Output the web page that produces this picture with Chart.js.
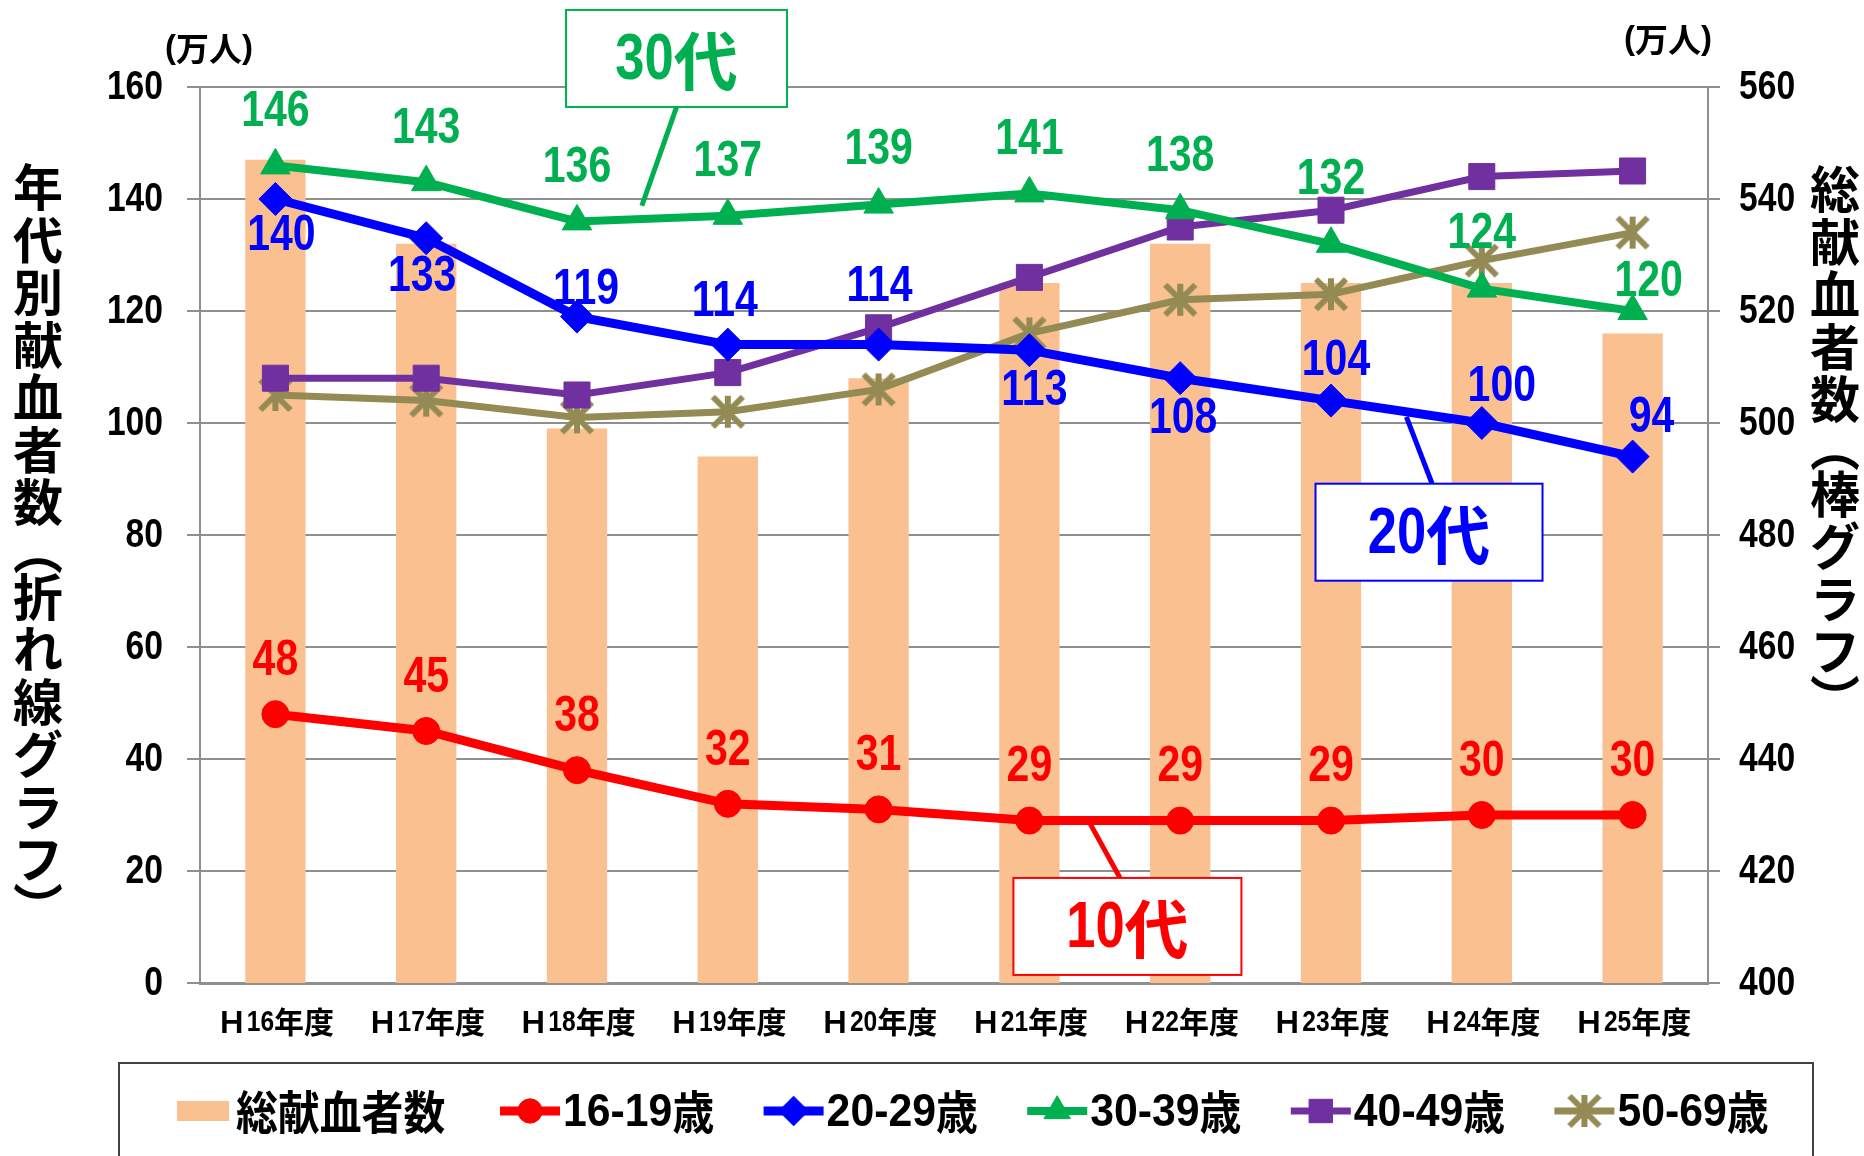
<!DOCTYPE html>
<html lang="ja">
<head>
<meta charset="utf-8">
<title>年代別献血者数の推移</title>
<script src="https://cdn.jsdelivr.net/npm/chart.js@4.4.1/dist/chart.umd.min.js"></script>
<style>
  html, body { margin: 0; padding: 0; background: #fff; }
  canvas { display: block; }
</style>
</head>
<body>
<canvas id="donorChart" width="1864" height="1156"></canvas>
<script>
/* ---------- DATA ---------- */
const categories = ["Ｈ16年度", "Ｈ17年度", "Ｈ18年度", "Ｈ19年度", "Ｈ20年度",
                    "Ｈ21年度", "Ｈ22年度", "Ｈ23年度", "Ｈ24年度", "Ｈ25年度"];
const totalDonors = [547, 532, 499, 494, 508, 525, 532, 525, 525, 516];   // 棒グラフ (右軸)
const age16to19 = [48, 45, 38, 32, 31, 29, 29, 29, 30, 30];
const age20to29 = [140, 133, 119, 114, 114, 113, 108, 104, 100, 94];
const age30to39 = [146, 143, 136, 137, 139, 141, 138, 132, 124, 120];
const age40to49 = [108, 108, 105, 109, 117, 126, 135, 138, 144, 145];
const age50to69 = [105, 104, 101, 102, 106, 116, 122, 123, 129, 134];
const leftTicks = [0, 20, 40, 60, 80, 100, 120, 140, 160];
const rightTicks = [400, 420, 440, 460, 480, 500, 520, 540, 560];

/* ---------- STYLE ---------- */
const LATIN = "'Liberation Sans', Arial, sans-serif";
const JP_FONT = "'Noto Sans CJK JP', sans-serif";
const NARROW = 0.82;   // squeeze latin text like a narrow gothic
const GRID = "#8f8f8f";

// label offsets (px) from each point: [dx, dy]
const offsAbove = [[0, -54], [0, -54], [0, -54], [0, -54], [0, -54],
                   [0, -54], [0, -54], [0, -54], [0, -54], [0, -54]];
const offs20 = [[6, 36], [-4, 38], [9, -27], [-3, -43], [1, -58],
                [5, 40], [3, 40], [5, -40], [20, -37], [19, -39]];
const offs30 = [[0, -54], [0, -54], [0, -54], [0, -55], [0, -55],
                [0, -54], [0, -54], [0, -65], [0, -55], [16, -30]];

function makeAsterisk(color, r, w) {
  const c = document.createElement("canvas");
  const s = Math.ceil(2 * r + w + 2);
  c.width = s; c.height = s;
  const g = c.getContext("2d");
  const m = s / 2;
  g.strokeStyle = color;
  g.lineWidth = w;
  g.beginPath();
  g.moveTo(m - r, m - r); g.lineTo(m + r, m + r);
  g.moveTo(m + r, m - r); g.lineTo(m - r, m + r);
  g.moveTo(m, m - r - 1); g.lineTo(m, m + r + 1);
  g.stroke();
  return c;
}
const asterisk = makeAsterisk("#948A54", 15, 6);

// call-out boxes, placed in data coordinates (category index, left-axis value)
const callouts = [
  { text: "30代", color: "#00B050", at: [2.66, 165.1], w: 221, h: 97, from: [2.66, 156.4], to: [2.43, 138.8] },
  { text: "20代", color: "#0000FF", at: [7.65, 80.5], w: 227, h: 97, from: [7.67, 89.2], to: [7.50, 101.1] },
  { text: "10代", color: "#FF0000", at: [5.65, 10.1], w: 228, h: 97, from: [5.60, 18.8], to: [5.40, 28.6] }
];

/* draw text with latin runs squeezed, CJK runs at (almost) normal width */
function drawMixed(ctx, text, x, y, size, align, opt) {
  const o = Object.assign({ latin: NARROW, cjk: 1 }, opt || {});
  const runs = [];
  for (const ch of text) {
    const latin = ch.charCodeAt(0) < 0x2000;
    const last = runs[runs.length - 1];
    if (last && last.latin === latin) last.s += ch;
    else runs.push({ latin, s: ch });
  }
  let total = 0;
  runs.forEach(r => {
    r.font = "bold " + size + "px " + (r.latin ? LATIN : JP_FONT);
    r.sx = r.latin ? o.latin : o.cjk;
    ctx.font = r.font;
    r.w = ctx.measureText(r.s).width * r.sx;
    total += r.w;
  });
  let cx = align === "center" ? x - total / 2 : align === "right" ? x - total : x;
  runs.forEach(r => {
    ctx.save();
    ctx.font = r.font;
    ctx.textAlign = "left";
    ctx.textBaseline = "middle";
    ctx.translate(cx, y + (r.latin ? 1 : 0));
    ctx.scale(r.sx, 1);
    ctx.fillText(r.s, 0, 0);
    ctx.restore();
    cx += r.w;
  });
  return total;
}

function lineSet(label, data, color, style, radius, width, offs, extra) {
  return Object.assign({
    type: "line", label, data, yAxisID: "y", order: 0,
    borderColor: color, backgroundColor: color, borderWidth: width,
    pointStyle: style, pointRadius: radius, pointHoverRadius: radius,
    pointBackgroundColor: color, pointBorderColor: color, pointBorderWidth: 1,
    labelOffsets: offs
  }, extra || {});
}

/* ---------- PLUGIN: labels, callouts, titles, legend ---------- */
const decorations = {
  id: "decorations",
  afterDatasetsDraw(chart) {
    const ctx = chart.ctx;
    ctx.save();
    chart.data.datasets.forEach((ds, i) => {
      if (!ds.labelOffsets) return;
      const meta = chart.getDatasetMeta(i);
      ctx.fillStyle = ds.borderColor;
      meta.data.forEach((pt, j) => {
        const o = ds.labelOffsets[j];
        drawMixed(ctx, String(ds.data[j]), pt.x + o[0], pt.y + o[1], 50, "center");
      });
    });

    const xs = chart.scales.x, ys = chart.scales.y;
    callouts.forEach(c => {
      const cx = xs.getPixelForValue(c.at[0]);
      const cy = ys.getPixelForValue(c.at[1]);
      ctx.strokeStyle = c.color;
      ctx.lineWidth = 5;
      ctx.beginPath();
      ctx.moveTo(xs.getPixelForValue(c.from[0]), ys.getPixelForValue(c.from[1]));
      ctx.lineTo(xs.getPixelForValue(c.to[0]), ys.getPixelForValue(c.to[1]));
      ctx.stroke();
      ctx.fillStyle = "#fff";
      ctx.fillRect(cx - c.w / 2, cy - c.h / 2, c.w, c.h);
      ctx.lineWidth = 2;
      ctx.strokeRect(cx - c.w / 2, cy - c.h / 2, c.w, c.h);
      ctx.fillStyle = c.color;
      drawMixed(ctx, c.text, cx, cy + 2, 64, "center");
    });
    ctx.restore();
  },
  afterDraw(chart) {
    const ctx = chart.ctx;
    ctx.save();
    ctx.fillStyle = "#000";

    // tick labels, taken from the scales
    const ys = chart.scales.y, y2 = chart.scales.y2, xs = chart.scales.x;
    ys.ticks.forEach(t => drawMixed(ctx, String(t.value), ys.right - 37, ys.getPixelForValue(t.value), 41, "right"));
    y2.ticks.forEach(t => drawMixed(ctx, String(t.value), y2.left + 31, y2.getPixelForValue(t.value), 41, "left"));
    chart.data.labels.forEach((lab, i) => drawMixed(ctx, lab, xs.getPixelForTick(i), xs.top + 39, 30, "center"));

    // vertical axis titles
    const vertical = (text, cx, top) => {
      ctx.font = "bold 50px " + JP_FONT;
      ctx.textAlign = "center";
      ctx.textBaseline = "middle";
      let y = top;
      for (const ch of text) {
        const h = "︵︶".includes(ch) ? 42 : 52.5;
        ctx.fillText(ch, cx, y + h / 2);
        y += h;
      }
    };
    vertical("年代別献血者数︵折れ線グラフ︶", 38, 161);
    vertical("総献血者数︵棒グラフ︶", 1835, 163);

    // units
    drawMixed(ctx, "(万人)", 165, 48, 33, "left", { latin: 1 });
    drawMixed(ctx, "(万人)", 1624, 39, 33, "left", { latin: 1 });

    // legend
    ctx.strokeStyle = "#404040";
    ctx.lineWidth = 2;
    ctx.strokeRect(119, 1063, 1694, 200);
    const ly = 1111;
    let k = 0;
    chart.data.datasets.forEach(ds => {
      let x;
      if (ds.type === "bar") {
        x = 177;
        ctx.fillStyle = ds.backgroundColor;
        ctx.fillRect(x, ly - 10, 52, 20);
        x += 59;
      } else {
        x = 500 + k * 263.6;
        k++;
        ctx.strokeStyle = ds.borderColor;
        ctx.lineWidth = ds.borderWidth;
        ctx.beginPath();
        ctx.moveTo(x, ly); ctx.lineTo(x + 60, ly);
        ctx.stroke();
        ctx.fillStyle = ds.borderColor;
        ctx.lineWidth = ds.pointBorderWidth;
        Chart.helpers.drawPoint(ctx, {
          pointStyle: ds.pointStyle, radius: ds.pointRadius * 0.9,
          borderWidth: ds.pointBorderWidth, rotation: 0
        }, x + 30, ly);
        x += 63;
      }
      ctx.fillStyle = "#000";
      drawMixed(ctx, ds.label, x, ly + 1, 46, "left", { latin: 0.93, cjk: 0.91 });
    });
    ctx.restore();
  }
};

/* ---------- CHART ---------- */
new Chart(document.getElementById("donorChart"), {
  data: {
    labels: categories,
    datasets: [
      {
        type: "bar", label: "総献血者数", data: totalDonors, yAxisID: "y2", order: 1,
        backgroundColor: "#FAC090", barPercentage: 0.4, categoryPercentage: 1
      },
      lineSet("16-19歳", age16to19, "#FF0000", "circle", 13.5, 9, offsAbove),
      lineSet("20-29歳", age20to29, "#0000FF", "rectRot", 16.5, 9, offs20),
      lineSet("30-39歳", age30to39, "#00B050", "triangle", 17, 8, offs30),
      lineSet("40-49歳", age40to49, "#7030A0", "rect", 18.4, 7, null),
      lineSet("50-69歳", age50to69, "#948A54", asterisk, 16, 7, null, { pointBorderWidth: 5 })
    ]
  },
  options: {
    responsive: false,
    animation: false,
    events: [],
    layout: { padding: { top: 87, bottom: 113, left: 0, right: 0 } },
    scales: {
      x: {
        offset: true,
        grid: { display: false, drawTicks: false },
        border: { color: GRID, width: 3 },
        ticks: { display: false, autoSkip: false },
        afterFit: s => { s.height = 60; }
      },
      y: {
        position: "left",
        min: leftTicks[0], max: leftTicks[leftTicks.length - 1],
        afterBuildTicks: s => { s.ticks = leftTicks.map(v => ({ value: v })); },
        grid: { color: GRID, lineWidth: 2, tickLength: 13 },
        border: { color: GRID, width: 2 },
        ticks: { display: false },
        afterFit: s => { s.width = 200; }
      },
      y2: {
        position: "right",
        min: rightTicks[0], max: rightTicks[rightTicks.length - 1],
        afterBuildTicks: s => { s.ticks = rightTicks.map(v => ({ value: v })); },
        grid: { color: GRID, lineWidth: 2, tickLength: 12, drawOnChartArea: false },
        border: { color: GRID, width: 2 },
        ticks: { display: false },
        afterFit: s => { s.width = 156; }
      }
    },
    plugins: {
      legend: { display: false },
      tooltip: { enabled: false }
    }
  },
  plugins: [decorations]
});
</script>
</body>
</html>
